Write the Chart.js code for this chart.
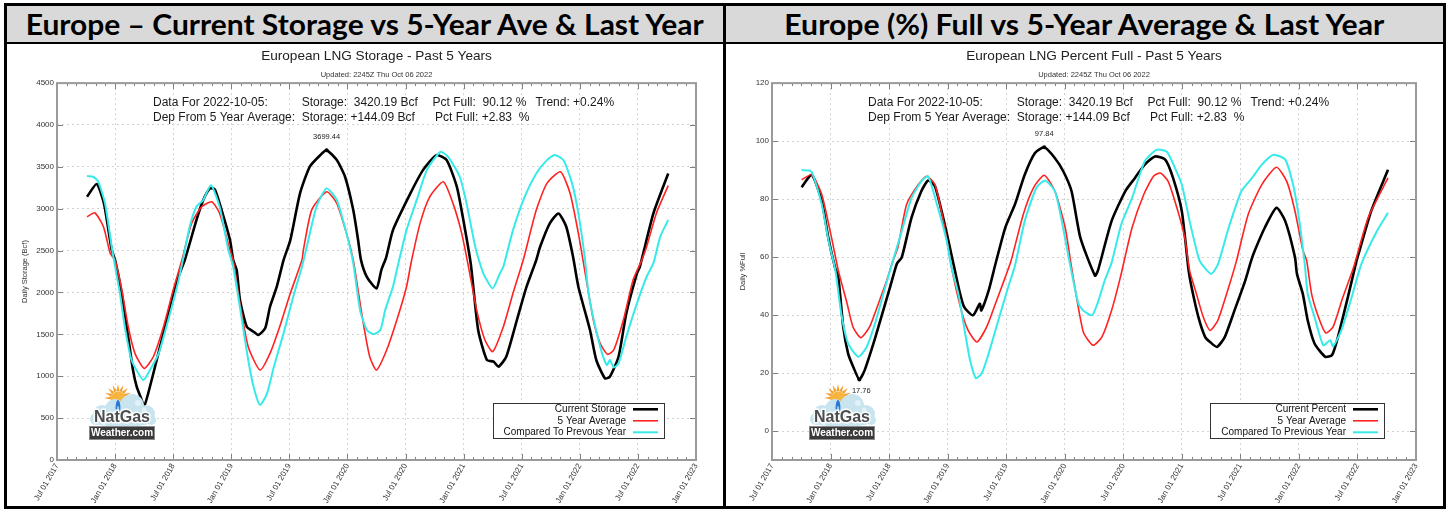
<!DOCTYPE html>
<html><head><meta charset="utf-8">
<script src="https://cdn.jsdelivr.net/npm/chart.js@4.4.0/dist/chart.umd.min.js"></script>
<style>
html,body{margin:0;padding:0;background:#fff;}
#wrap{position:relative;width:1449px;height:512px;background:#fff;overflow:hidden;}
.frame{position:absolute;left:4px;top:3px;width:1442px;height:506px;border:3px solid #000;box-sizing:border-box;}
.hdr{position:absolute;top:6px;height:36px;background:#d9d9d9;display:flex;align-items:center;justify-content:center;overflow:hidden;}
.hdr span{font-family:Lato,"Open Sans",sans-serif;font-weight:700;font-size:28px;color:#000;white-space:nowrap;display:inline-block;transform-origin:center;}
.hline{position:absolute;left:4px;top:42px;width:1442px;height:2px;background:#000;}
.vline{position:absolute;left:723px;top:3px;width:2.5px;height:506px;background:#000;}
canvas{position:absolute;}
</style>
</head>
<body>
<div id="wrap">
  <div class="hdr" style="left:7px;width:716px;"><span data-w="678">Europe – Current Storage vs 5-Year Ave &amp; Last Year</span></div>
  <div class="hdr" style="left:725.5px;width:717.5px;"><span data-w="600">Europe (%) Full vs 5-Year Average &amp; Last Year</span></div>
  <div class="hline"></div>
  <div class="vline"></div>
  <div class="frame"></div>
  <canvas id="c1" width="716" height="462" style="left:7px;top:44px;"></canvas>
  <canvas id="c2" width="718" height="462" style="left:725px;top:44px;"></canvas>
</div>
<script>
// ---------------- DATA ----------------
// x values: months since Jul 01 2017
const xTickLabels = ["Jul 01 2017","Jan 01 2018","Jul 01 2018","Jan 01 2019","Jul 01 2019","Jan 01 2020","Jul 01 2020","Jan 01 2021","Jul 01 2021","Jan 01 2022","Jul 01 2022","Jan 01 2023"];

// Left chart: storage (Bcf)
const storageCurrentMonths = [3.1,4.1,4.85,5.65,6.0,6.68,7.35,7.85,8.23,8.75,9.0,9.43,10.3,11.33,12.4,13.2,14.4,15.1,15.8,16.3,17.0,17.87,18.2,18.56,18.9,19.6,20.3,20.8,21.5,22.0,22.7,23.4,24.1,25.1,26.1,27.2,27.85,28.9,29.75,30.6,31.1,31.4,32.0,33.0,33.5,34.0,34.7,36.5,37.8,39.2,40.25,41.3,41.97,42.75,43.5,44.4,45.1,45.6,46.4,47.5,48.5,49.5,49.9,50.9,51.8,52.6,53.3,53.85,55.05,55.7,56.6,57.1,58.0,58.8,59.9,60.2,61.6,63.13];
const storageCurrentBcf    = [3143,3295,3064,2507,2387,1993,1468,1074,875,716,640,800,1194,1671,2148,2387,2865,3103,3243,3231,2984,2626,2387,2268,1910,1591,1532,1492,1572,1830,2069,2387,2626,3183,3501,3641,3699.44,3581,3382,2984,2626,2387,2188,2049,2268,2420,2745,3183,3461,3640,3581,3262,2865,2330,1552,1194,1174,1114,1233,1671,2069,2387,2546,2825,2944,2785,2427,2069,1552,1194,975,994,1233,1751,2228,2307,2944,3420.19];

const storageAvgMonths = [3.1,3.9,4.8,5.5,5.99,6.7,7.36,8.05,9.0,9.95,11.0,12.0,12.9,13.9,14.95,15.98,16.8,17.87,18.2,18.9,19.75,20.97,22.0,23.0,24.1,25.3,25.45,26.3,27.85,28.9,29.9,30.6,31.2,31.7,32.3,33.0,34.05,35.1,36.1,36.6,37.5,38.5,39.9,40.9,41.8,42.5,43.35,44.2,45.0,46.1,47.1,48.2,49.5,50.6,52.0,53.0,53.85,54.5,55.4,56.1,56.85,57.5,58.5,59.5,60.4,60.9,61.9,63.13];
const storageAvgBcf    = [2904,2952,2785,2467,2387,2029,1591,1273,1094,1233,1591,2029,2387,2825,3024,3083,2944,2507,2387,1870,1352,1074,1273,1591,1990,2387,2507,2984,3203,3064,2706,2387,1950,1591,1233,1074,1313,1671,2069,2370,2825,3143,3322,3064,2706,2307,1790,1432,1293,1591,1990,2407,2984,3303,3441,3183,2706,2268,1671,1393,1262,1313,1671,2148,2387,2546,2944,3276.1];

const storagePrevMonths = [3.1,3.75,4.27,4.96,5.65,6.0,6.5,7.0,7.7,8.9,9.6,10.5,11.3,12.4,13.0,13.7,14.4,15.1,15.9,16.8,17.7,18.2,19.1,19.75,20.3,20.97,21.7,22.4,23.4,24.4,25.3,25.8,26.8,27.85,28.9,29.9,30.6,31.3,32.0,32.7,33.4,33.9,34.7,35.1,36.1,37.15,38.2,39.6,40.4,41.6,42.3,43.2,43.9,44.2,45.0,45.75,46.1,47.1,48.3,49.5,50.6,51.4,52.3,53.2,53.85,54.5,54.9,55.6,56.3,56.8,57.1,57.5,58.0,58.8,59.9,60.9,61.6,62.3,63.13];
const storagePrevBcf    = [3390,3382,3322,3064,2546,2308,1990,1591,1194,955,1074,1273,1591,2069,2387,2785,3024,3103,3282,3024,2507,2308,1671,1194,875,657,796,1114,1512,1950,2308,2546,3024,3243,3103,2706,2348,1790,1552,1504,1552,1790,2069,2268,2745,3103,3461,3680,3620,3382,3064,2546,2268,2188,2049,2228,2307,2745,3143,3422,3581,3641,3581,3303,2944,2427,1990,1591,1273,1134,1194,1106,1154,1472,1870,2188,2350,2665,2865];

// Right chart: percent full
const pctCurrentMonths = [3.04,4.07,5.1,5.77,6.46,6.8,7.3,7.8,8.33,8.95,9.5,10.4,11.2,12.1,12.8,13.3,14.3,15.3,16.0,16.7,17.7,18.6,19.2,19.7,20.6,21.3,21.45,22.2,22.9,23.9,24.9,25.9,26.95,27.9,29.0,29.85,30.7,31.6,33.1,33.4,34.8,36.2,37.2,38.2,39.25,40.3,41.1,42.0,42.7,43.0,43.7,44.4,44.9,45.6,46.4,47.4,48.5,49.1,49.5,50.5,51.7,52.6,53.6,53.8,54.4,54.9,55.6,56.7,57.4,58.0,59.1,59.9,60.1,61.4,63.13];
const pctCurrent       = [84.1,88.4,79.3,66.7,56.4,53,35.9,26.7,22.1,17.76,21,30.2,39.3,49.6,57.7,59.9,73.6,82.7,86.4,84.4,71.3,57.6,48.4,42.7,39.9,43.9,41.6,48.4,57.6,70.1,78.2,88.4,95.9,97.84,94.1,89.6,82.7,66.7,53.6,55.3,72.4,82.7,87.3,91.9,94.7,93.6,87.3,75.8,55.3,49.6,39.3,32.4,30.7,29,32.4,41.6,51.9,58.7,62.4,70.1,77,72.4,59.9,54.2,47.3,38.2,30.2,25.6,26.2,32.4,47.3,58.7,61,75.8,90.12];

const pctAvgMonths = [3.04,4.07,5.1,6.1,6.8,7.7,8.3,9.1,10.0,10.9,11.75,12.4,12.9,13.8,15.0,15.85,16.7,17.7,18.4,19.4,20.1,21.0,22.0,22.9,23.9,24.5,25.75,26.8,27.9,29.0,30.05,30.7,31.9,32.9,33.8,34.8,35.7,36.9,38.1,39.1,39.8,40.6,41.6,42.3,42.8,43.5,44.2,44.9,45.7,46.8,47.6,48.8,50.2,51.7,52.75,53.6,54.4,54.8,55.3,56.0,56.75,57.5,58.5,59.6,61.1,63.13];
const pctAvg       = [86.7,88.4,81.6,66.7,55.3,43.9,35.9,32.2,35.9,43.9,51.8,58.7,63.3,78.2,85,87.9,85,70.1,56.4,41.6,34.7,30.7,35.9,43.9,53,58.7,74.7,83.9,88.2,82.7,70.1,56.4,34.2,29.6,32.4,41.6,53,70.1,81.6,87.9,89,86.1,75.8,66.7,55.3,47.3,39.3,34.7,38.2,49.6,58.7,74.7,85,91,86.1,75.8,62.4,58.7,47.3,39.3,33.8,35.9,46.1,56.4,73.6,87.29];

const pctPrevMonths = [3.04,3.9,4.2,5.1,5.8,6.5,7.1,7.8,8.85,9.7,10.55,11.6,12.3,13.3,14.3,15.3,16.0,17.0,17.9,18.4,19.1,19.8,20.3,20.9,21.5,22.2,23.2,24.2,24.9,25.9,27.1,28.0,29.0,29.7,30.4,31.4,31.9,32.8,33.4,34.1,34.8,35.8,36.9,38.2,39.4,40.45,41.3,42.0,42.8,43.7,44.0,45.0,45.7,46.8,48.1,49.2,50.2,51.4,52.6,53.4,53.95,54.6,54.9,55.6,56.5,57.2,57.5,58.35,59.4,60.4,62.0,63.13];
const pctPrev       = [90,89.8,88.4,78.2,65.6,55.3,40.4,30.2,25.6,29,37,49.6,57.7,69,80.4,86.1,87.9,77,65.6,56.4,47.3,33.6,24.4,18.2,19.9,26.7,38.2,49.6,57,72.4,83.9,86.4,82.7,72.4,59.9,43.9,41.6,39.9,44.4,51.9,58,71.3,80.4,93,97,96.4,90.7,85,72.4,59.9,57.7,54.2,57.5,70.1,82.7,87.3,91.9,95.3,93.6,85,74.7,57.6,47.3,39.3,29.6,31.3,29.2,34.7,46.1,57.6,69,75.3];

const seriesLabelsStorage = ["Current Storage","5 Year Average","Compared To Prevous Year"];
const seriesLabelsPct = ["Current Percent","5 Year Average","Compared To Previous Year"];
const infoLine1 = ["Data For 2022-10-05:","Storage:  3420.19 Bcf","Pct Full:  90.12 %","Trend: +0.24%"];
const infoLine2 = ["Dep From 5 Year Average:","Storage: +144.09 Bcf","Pct Full: +2.83  %"];
const updatedText = "Updated: 2245Z Thu Oct 06 2022";

// ---------------- RENDERING ----------------
const FONT = '"Liberation Sans", Arial, Helvetica, sans-serif';
Chart.defaults.font.family = FONT;

function pts(xs, ys){ return xs.map((x,i)=>({x:x, y:ys[i]})); }

function line(ctx,x1,y1,x2,y2){ ctx.beginPath(); ctx.moveTo(x1,y1); ctx.lineTo(x2,y2); ctx.stroke(); }

function drawLogo(ctx, x0, y0){
  ctx.save();
  const sx = x0+30, sy = y0+15;
  ctx.fillStyle = '#f2a12e';
  for (let k=0;k<9;k++){
    const ang = Math.PI + k*Math.PI/8;
    ctx.beginPath();
    ctx.moveTo(sx+Math.cos(ang)*14, sy+Math.sin(ang)*14);
    ctx.lineTo(sx+Math.cos(ang-0.22)*7, sy+Math.sin(ang-0.22)*7);
    ctx.lineTo(sx+Math.cos(ang+0.22)*7, sy+Math.sin(ang+0.22)*7);
    ctx.closePath(); ctx.fill();
  }
  ctx.fillStyle = '#f7b53f';
  ctx.beginPath(); ctx.arc(sx, sy+1, 7.5, 0, Math.PI*2); ctx.fill();
  ctx.fillStyle = '#c8e4ef';
  const blobs = [[14,31,9],[27,26,10],[44,23,12],[58,31,9],[8,36,6],[63,37,5]];
  for (const b of blobs){ ctx.beginPath(); ctx.arc(x0+b[0], y0+b[1], b[2], 0, Math.PI*2); ctx.fill(); }
  ctx.beginPath(); ctx.ellipse(x0+34, y0+37, 32, 7, 0, 0, Math.PI*2); ctx.fill();
  ctx.fillStyle = '#e2f1f7';
  ctx.beginPath(); ctx.arc(x0+50, y0+20, 3, 0, Math.PI*2); ctx.fill();
  ctx.beginPath(); ctx.arc(x0+56, y0+27, 2.5, 0, Math.PI*2); ctx.fill();
  ctx.fillStyle = '#2a78d2';
  ctx.beginPath(); ctx.ellipse(x0+30, y0+25, 2.4, 8, 0, 0, Math.PI*2); ctx.fill();
  ctx.fillStyle = '#a9d6ff';
  ctx.beginPath(); ctx.ellipse(x0+30, y0+27, 1, 4, 0, 0, Math.PI*2); ctx.fill();
  ctx.font = 'bold 16px ' + FONT; ctx.textAlign='center'; ctx.textBaseline='middle';
  ctx.lineWidth = 3; ctx.strokeStyle = 'rgba(255,255,255,0.9)';
  ctx.strokeText('NatGas', x0+34, y0+35);
  ctx.fillStyle = '#4d4d4d'; ctx.fillText('NatGas', x0+34, y0+35);
  ctx.fillStyle = '#3a3a3a'; ctx.fillRect(x0+1, y0+43, 66, 14);
  ctx.strokeStyle = '#8a8a8a'; ctx.lineWidth = 1; ctx.strokeRect(x0+1.5, y0+43.5, 65, 13);
  ctx.font = 'bold 10px ' + FONT; ctx.fillStyle = '#fff';
  ctx.fillText('Weather.com', x0+34, y0+50.5);
  ctx.restore();
}

const gnuPlugin = {
  id: 'gnu',
  afterDatasetsDraw(chart, args, opts){
    const ctx = chart.ctx, a = chart.chartArea, xs = chart.scales.x, ys = chart.scales.y;
    ctx.save();
    // ticks
    ctx.strokeStyle = '#808080'; ctx.lineWidth = 1;
    for (const t of xs.ticks){ const px = Math.round(xs.getPixelForValue(t.value))+0.5; line(ctx,px,a.bottom,px,a.bottom-6); line(ctx,px,a.top,px,a.top+6); }
    for (let m = Math.ceil(xs.min); m <= xs.max; m++){ const px = Math.round(xs.getPixelForValue(m))+0.5; line(ctx,px,a.bottom,px,a.bottom-3); line(ctx,px,a.top,px,a.top+3); }
    for (const t of ys.ticks){ const py = Math.round(ys.getPixelForValue(t.value))+0.5; line(ctx,a.left,py,a.left+6,py); line(ctx,a.right,py,a.right-6,py); }
    // frame
    ctx.strokeStyle = '#9a9a9a'; ctx.lineWidth = 2;
    ctx.strokeRect(a.left, a.top, a.right-a.left, a.bottom-a.top);
    // info text
    ctx.fillStyle = '#1a1a1a'; ctx.font = '12px ' + FONT; ctx.textAlign='left'; ctx.textBaseline='middle';
    const off1 = [96, 244.7, 375.5, 478.5], off2 = [96, 244.7, 378];
    infoLine1.forEach((s,i)=>ctx.fillText(s, a.left+off1[i], a.top+19.7));
    infoLine2.forEach((s,i)=>ctx.fillText(s, a.left+off2[i], a.top+34.7));
    // peak/min marks on current series
    const d = chart.data.datasets[0].data;
    ctx.font = '7.5px ' + FONT; ctx.textAlign='center'; ctx.fillStyle='#222';
    const marks = [];
    let imax = 0, imin = 0;
    d.forEach((p,i)=>{ if (p.y > d[imax].y) imax = i; if (p.y < d[imin].y) imin = i; });
    marks.push([d[imax], -13]);
    if (opts.showMin) marks.push([d[imin], 11]);
    for (const [p,dy] of marks){
      const px = xs.getPixelForValue(p.x), py = ys.getPixelForValue(p.y);
      ctx.fillStyle = '#000'; ctx.beginPath(); ctx.arc(px, py, 2, 0, Math.PI*2); ctx.fill();
      ctx.fillStyle = '#222'; ctx.fillText(p.y.toFixed(2), px + (dy>0?2:0), py+dy);
    }
    // legend
    ctx.font = '10px ' + FONT;
    const ds = chart.data.datasets;
    const tw = Math.max(...ds.map(s=>ctx.measureText(s.label).width));
    const right = a.right - 32, bottom = a.bottom - 22, top = bottom - 35;
    const textRight = right - 38, left = textRight - tw - 11;
    ctx.fillStyle = '#fff'; ctx.fillRect(left, top, right-left, bottom-top);
    ctx.strokeStyle = '#333'; ctx.lineWidth = 1; ctx.strokeRect(Math.round(left)+0.5, top+0.5, Math.round(right-left), bottom-top);
    ds.forEach((s,i)=>{
      const y = top + 6.3 + i*11.5;
      ctx.fillStyle = '#111'; ctx.textAlign='right'; ctx.textBaseline='middle';
      ctx.fillText(s.label, textRight, y);
      ctx.strokeStyle = s.borderColor; ctx.lineWidth = s.borderWidth; line(ctx, right-31, y, right-6, y);
    });
    ctx.restore();
    drawLogo(ctx, opts.logoX, 339);
  }
};

function makeChart(id, cfg){
  const colors = ['#000000','#ff2222','#37eaea'];
  const widths = [2.6, 1.6, 2];
  const orders = [2,1,0];
  return new Chart(document.getElementById(id), {
    type: 'line',
    data: { datasets: cfg.series.map((s,i)=>({
      label: cfg.labels[i], data: s, borderColor: colors[i], backgroundColor: colors[i],
      borderWidth: widths[i], pointRadius: 0, tension: 0.2, order: orders[i], fill: false
    })) },
    options: {
      responsive: false, animation: false, devicePixelRatio: 1,
      layout: { padding: { left: 0, right: 27, top: 0, bottom: 0 } },
      plugins: {
        legend: { display: false }, tooltip: { enabled: false },
        title: { display: true, text: cfg.title, fullSize: false, color: '#222', font: { size: 13.6, weight: 'normal' }, padding: { top: 3.6, bottom: 6.2 } },
        subtitle: { display: true, text: updatedText, fullSize: false, color: '#333', font: { size: 7.5, weight: 'normal' }, padding: { top: 0, bottom: 4 } },
        gnu: { logoX: cfg.logoX, showMin: cfg.showMin }
      },
      scales: {
        x: {
          type: 'linear', min: 0, max: (xTickLabels.length-1)*6,
          afterFit: s => { s.height = 46; },
          ticks: { stepSize: 6, autoSkip: false, minRotation: 60, maxRotation: 60, padding: 2, color: '#333', font: { size: 8 },
                   callback: (v) => xTickLabels[Math.round(v/6)] },
          grid: { color: '#d2d2d2', lineWidth: 1, drawTicks: false },
          border: { display: false, dash: [2,3] }
        },
        y: {
          min: cfg.ymin, max: cfg.ymax,
          afterFit: s => { s.width = cfg.yWidth; },
          afterBuildTicks: s => { s.ticks = s.ticks.filter(t => t.value >= 0); },
          ticks: { stepSize: cfg.ystep, padding: 3, color: '#333', font: { size: 8 }, callback: (v) => String(v) },
          grid: { color: '#d2d2d2', lineWidth: 1, drawTicks: false },
          border: { display: false, dash: [2,3] },
          title: { display: true, text: cfg.ytitle, color: '#333', font: { size: 7.5 }, padding: { top: 13, bottom: 0 } }
        }
      }
    },
    plugins: [gnuPlugin]
  });
}

makeChart('c1', {
  title: 'European LNG Storage - Past 5 Years', ytitle: 'Daily Storage (Bcf)',
  labels: seriesLabelsStorage,
  series: [pts(storageCurrentMonths, storageCurrentBcf), pts(storageAvgMonths, storageAvgBcf), pts(storagePrevMonths, storagePrevBcf)],
  ymin: 0, ymax: 4500, ystep: 500, yWidth: 50, logoX: 81, showMin: false
});
makeChart('c2', {
  title: 'European LNG Percent Full - Past 5 Years', ytitle: 'Daily %Full',
  labels: seriesLabelsPct,
  series: [pts(pctCurrentMonths, pctCurrent), pts(pctAvgMonths, pctAvg), pts(pctPrevMonths, pctPrev)],
  ymin: -10, ymax: 120, ystep: 20, yWidth: 47, logoX: 83, showMin: true
});

document.querySelectorAll('.hdr span').forEach(s => {
  const target = +s.dataset.w; const w = s.getBoundingClientRect().width;
  if (w > 0) s.style.transform = 'scaleX(' + (target / w) + ')';
});
</script>
</body></html>
